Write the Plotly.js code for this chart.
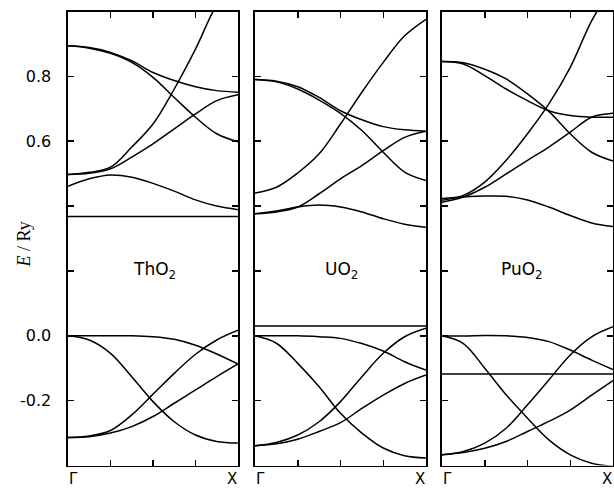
<!DOCTYPE html>
<html>
<head>
<meta charset="utf-8">
<script src="https://cdn.plot.ly/plotly-3.0.1.min.js"></script>
<style>html,body{margin:0;padding:0;background:#fff;}#chart{width:614px;height:489px;}</style>
</head>
<body>
<div id="chart"></div>
<script>
// wave-vector path Gamma -> X (fraction of path)
const k = [0, 0.125, 0.25, 0.375, 0.5, 0.625, 0.75, 0.875, 1];
const kEnds = [0, 1];

// ThO2 bands (Ry)
const th_t1 = [0.894, 0.889, 0.874, 0.848, 0.812, 0.787, 0.768, 0.756, 0.751];
const th_t2 = [0.894, 0.887, 0.871, 0.843, 0.797, 0.735, 0.674, 0.623, 0.598];
const th_s  = [0.497, 0.504, 0.520, 0.582, 0.653, 0.761, 0.884, 1.02, 1.10];
const th_r  = [0.497, 0.501, 0.515, 0.551, 0.592, 0.638, 0.684, 0.725, 0.743];
const th_h  = [0.461, 0.484, 0.496, 0.489, 0.470, 0.446, 0.419, 0.400, 0.389];
const th_f  = [0.368, 0.368];
const th_v1 = [0, 0, 0, 0, -0.003, -0.011, -0.029, -0.056, -0.087];
const th_v2 = [0, -0.013, -0.054, -0.126, -0.203, -0.265, -0.306, -0.326, -0.331];
const th_b1 = [-0.314, -0.309, -0.292, -0.244, -0.180, -0.116, -0.057, -0.013, 0.017];
const th_b2 = [-0.314, -0.311, -0.300, -0.280, -0.249, -0.208, -0.167, -0.126, -0.087];

// UO2 bands (Ry)
const u_t1 = [0.790, 0.785, 0.768, 0.735, 0.694, 0.666, 0.645, 0.635, 0.631];
const u_t2 = [0.790, 0.783, 0.761, 0.727, 0.686, 0.633, 0.566, 0.505, 0.479];
const u_s  = [0.440, 0.458, 0.502, 0.561, 0.653, 0.751, 0.843, 0.925, 0.976];
const u_r  = [0.376, 0.382, 0.397, 0.438, 0.484, 0.525, 0.571, 0.612, 0.631];
const u_h  = [0.376, 0.385, 0.397, 0.403, 0.397, 0.382, 0.361, 0.344, 0.335];
const u_f  = [0.030, 0.030];
const u_v1 = [0, 0, 0, -0.003, -0.008, -0.024, -0.047, -0.080, -0.106];
const u_v2 = [0, -0.023, -0.085, -0.157, -0.239, -0.300, -0.346, -0.370, -0.377];
const u_b1 = [-0.339, -0.329, -0.306, -0.265, -0.203, -0.126, -0.054, -0.003, 0.023];
const u_b2 = [-0.339, -0.333, -0.319, -0.295, -0.268, -0.224, -0.183, -0.147, -0.121];

// PuO2 bands (Ry)
const p_a  = [0.846, 0.838, 0.802, 0.761, 0.725, 0.694, 0.679, 0.674, 0.674];
const p_b  = [0.846, 0.842, 0.822, 0.792, 0.746, 0.692, 0.623, 0.566, 0.539];
const p_s  = [0.418, 0.433, 0.474, 0.541, 0.623, 0.715, 0.828, 0.971, 1.08];
const p_r  = [0.412, 0.428, 0.458, 0.499, 0.541, 0.582, 0.628, 0.674, 0.686];
const p_h  = [0.423, 0.428, 0.431, 0.430, 0.419, 0.397, 0.371, 0.348, 0.337];
const p_f  = [-0.118, -0.118];
const p_v1 = [0, -0.001, 0.001, 0, -0.005, -0.018, -0.044, -0.075, -0.104];
const p_v2 = [0, -0.024, -0.100, -0.182, -0.254, -0.321, -0.367, -0.393, -0.403];
const p_b1 = [-0.367, -0.357, -0.331, -0.285, -0.213, -0.136, -0.059, -0.003, 0.028];
const p_b2 = [-0.367, -0.360, -0.347, -0.326, -0.295, -0.264, -0.229, -0.183, -0.138];

// labels
const compounds = ['ThO<sub>2</sub>', 'UO<sub>2</sub>', 'PuO<sub>2</sub>'];
const yTickVals = [-0.2, 0.0, 0.6, 0.8];
const yTickText = ['-0.2', '0.0', '0.6', '0.8'];
const xTickVals = [0.25, 0.5, 0.75];
const kLabels = ['\u0393', 'X'];

const panels = [
  [th_t1, th_t2, th_s, th_r, th_h, th_v1, th_v2, th_b1, th_b2, th_f],
  [u_t1, u_t2, u_s, u_r, u_h, u_v1, u_v2, u_b1, u_b2, u_f],
  [p_a, p_b, p_s, p_r, p_h, p_v1, p_v2, p_b1, p_b2, p_f]
];

const traces = [];
panels.forEach((bands, i) => {
  const xa = i === 0 ? 'x' : 'x' + (i + 1);
  const ya = i === 0 ? 'y' : 'y' + (i + 1);
  bands.forEach(b => {
    const flat = b.length === 2;
    traces.push({
      x: flat ? kEnds : k, y: b, xaxis: xa, yaxis: ya,
      mode: 'lines', hoverinfo: 'skip', showlegend: false,
      line: {color: '#000', width: 1.5, shape: flat ? 'linear' : 'spline', smoothing: 1}
    });
  });
});

const W = 614, H = 489;
const xdom = [[68, 238], [255, 426], [442, 613]].map(d => [d[0] / W, d[1] / W]);
const ydom = [(H - 465.5) / H, (H - 11.5) / H];

const layout = {
  width: W, height: H,
  margin: {l: 0, r: 0, t: 0, b: 0},
  paper_bgcolor: '#fff', plot_bgcolor: '#fff',
  showlegend: false,
  font: {family: 'DejaVu Sans', color: '#000', size: 15},
  annotations: []
};

for (let i = 0; i < 3; i++) {
  const sfx = i === 0 ? '' : String(i + 1);
  layout['xaxis' + sfx] = {
    domain: xdom[i], range: [0, 1], anchor: 'y' + sfx,
    showline: true, linewidth: 1.6, linecolor: '#000', mirror: 'ticks',
    ticks: 'inside', ticklen: 6, tickwidth: 1.5, tickcolor: '#000',
    tickvals: xTickVals, showticklabels: false,
    showgrid: false, zeroline: false, fixedrange: true
  };
  layout['yaxis' + sfx] = {
    domain: ydom, range: [-0.4, 1.0], anchor: 'x' + sfx,
    showline: true, linewidth: 1.6, linecolor: '#000', mirror: 'ticks',
    ticks: 'inside', ticklen: 6, tickwidth: 1.5, tickcolor: '#000',
    tickvals: yTickVals, ticktext: yTickText,
    minor: {tickvals: [0.2, 0.4], ticks: 'inside', ticklen: 6, tickwidth: 1.5, tickcolor: '#000', showgrid: false},
    showticklabels: i === 0, ticklabelstandoff: 12,
    tickfont: {family: 'DejaVu Sans', size: 16, color: '#000'},
    showgrid: false, zeroline: false, fixedrange: true
  };
  const xr = 'x' + sfx;
  layout.annotations.push({
    xref: xr, yref: 'paper', x: 0, y: 0, xanchor: 'left', yanchor: 'bottom', borderpad: 0,
    text: kLabels[0], showarrow: false, font: {family: 'DejaVu Sans', size: 15, color: '#000'}
  });
  layout.annotations.push({
    xref: xr, yref: 'paper', x: 1, y: 0, xanchor: 'right', yanchor: 'bottom', borderpad: 0,
    text: kLabels[1], showarrow: false, font: {family: 'DejaVu Sans', size: 15, color: '#000'}
  });
}

const labelX = [0.506, 0.507, 0.47];
compounds.forEach((c, i) => {
  const sfx = i === 0 ? '' : String(i + 1);
  layout.annotations.push({
    xref: 'x' + sfx, yref: 'y' + sfx, x: labelX[i], y: 0.2,
    text: c, showarrow: false, font: {family: 'DejaVu Sans', size: 17, color: '#000'}
  });
});

layout.annotations.push({
  xref: 'paper', yref: 'paper', x: 23.5 / W, y: (H - 245) / H, xanchor: 'center', yanchor: 'middle',
  text: '<i>E</i> / Ry', textangle: -90, showarrow: false,
  font: {family: 'Liberation Serif', size: 18, color: '#000'}
});

Plotly.newPlot('chart', traces, layout, {staticPlot: true, displayModeBar: false}).then(gd => {
  // drop empty placeholder text nodes (unused axis titles)
  gd.querySelectorAll('text').forEach(t => {
    if (!t.textContent.trim()) t.remove();
  });
});
</script>
</body>
</html>
